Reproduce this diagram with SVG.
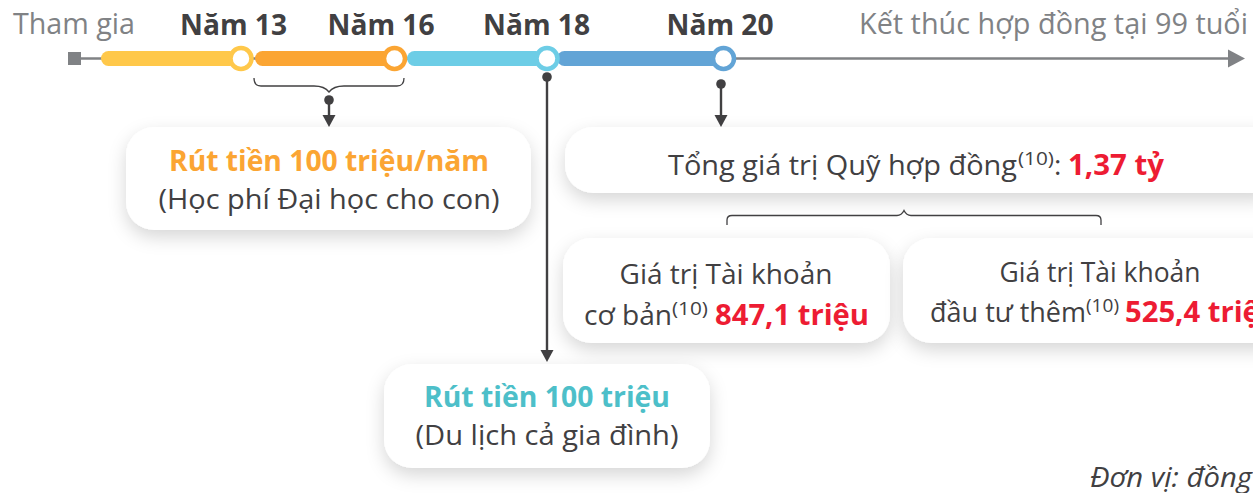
<svg xmlns="http://www.w3.org/2000/svg" width="1253" height="493" viewBox="0 0 1253 493">
<style>
text{font-family:"Open Sans","Noto Sans","Liberation Sans",sans-serif;}
.g{font-size:29px;fill:#808285}
.y{font-size:29px;font-weight:700;fill:#414042;text-anchor:middle}
.b{font-size:28px;fill:#414042;text-anchor:middle}
.l{font-size:28px;fill:#414042}
.h{font-size:28px;font-weight:700;text-anchor:middle}
.r{font-size:28px;font-weight:700;fill:#ED1C33}
.s{font-size:18px;fill:#414042}
.card{fill:#fff;filter:url(#sh)}
.lead{stroke:#414042;stroke-width:2.400;fill:none}
.br{stroke:#414042;stroke-width:1.300;fill:none}
.dot{fill:#414042}
</style>
<defs>
<filter id="sh" x="-20%" y="-30%" width="140%" height="180%"><feDropShadow dx="0" dy="7" stdDeviation="9" flood-color="#000" flood-opacity="0.16"/></filter>
</defs>
<rect width="1253" height="493" fill="#fff"/>
<g id="connectors">
<path d="M74 58.500H1232" stroke="#808285" stroke-width="2.500"/>
<rect x="68" y="52" width="13" height="13" fill="#808285"/>
<path d="M1228 49.500L1245 58.500L1228 67.500Z" fill="#808285"/>
<path class="br" d="M254 78c0 6 3 8 7 8h53c7 0 12 2 15 6c3-4 8-6 15-6h53c4 0 7-2 7-8"/>
<circle class="dot" cx="329" cy="100" r="4.800"/>
<path class="lead" d="M329 100V118"/><path class="dot" d="M322.500 115H335.500L329 127Z"/>
<circle class="dot" cx="547" cy="77" r="4.800"/>
<path class="lead" d="M547 77V352"/><path class="dot" d="M540.500 350H553.500L547 362Z"/>
<circle class="dot" cx="721" cy="84" r="4.800"/>
<path class="lead" d="M721 84V118"/><path class="dot" d="M714.500 115H727.500L721 127Z"/>
<path class="br" d="M727 225V220c0-3 2-4.500 5-4.500H897c3 0 5-1 7-5c2 4 4 5 7 5H1096c3 0 5 1.500 5 4.500V225"/>
</g>
<g id="timeline">
<rect x="101" y="51" width="136" height="15" rx="7.500" fill="#FFC84A"/>
<rect x="255" y="51" width="136" height="15" rx="7.500" fill="#FBA533"/>
<rect x="407" y="51" width="136" height="15" rx="7.500" fill="#6DCDE6"/>
<rect x="557" y="51" width="165" height="15" rx="7.500" fill="#62A4D6"/>
<circle cx="241" cy="58.500" r="10.500" fill="#fff" stroke="#FFC84A" stroke-width="4.500"/>
<circle cx="394.500" cy="58.500" r="10.500" fill="#fff" stroke="#FBA533" stroke-width="4.500"/>
<circle cx="547" cy="58.500" r="10.500" fill="#fff" stroke="#6DCDE6" stroke-width="4.500"/>
<circle cx="723.500" cy="58.500" r="10.500" fill="#fff" stroke="#62A4D6" stroke-width="4.500"/>
</g>
<g id="labels">
<text class="g" x="13" y="34" textLength="122" lengthAdjust="spacingAndGlyphs">Tham gia</text>
<text class="y" x="233.500" y="35" textLength="107" lengthAdjust="spacingAndGlyphs">Năm 13</text>
<text class="y" x="381" y="35" textLength="107" lengthAdjust="spacingAndGlyphs">Năm 16</text>
<text class="y" x="536.500" y="35" textLength="107" lengthAdjust="spacingAndGlyphs">Năm 18</text>
<text class="y" x="720" y="35" textLength="107" lengthAdjust="spacingAndGlyphs">Năm 20</text>
<text class="g" x="859" y="34" textLength="389" lengthAdjust="spacingAndGlyphs">Kết thúc hợp đồng tại 99 tuổi</text>
</g>
<g id="node-rut-nam">
<rect class="card" x="126" y="127" width="405" height="103" rx="28"/>
<text class="h" x="329" y="171" fill="#FBA533" textLength="320" lengthAdjust="spacingAndGlyphs">Rút tiền 100 triệu/năm</text>
<text class="b" x="329" y="209" textLength="341" lengthAdjust="spacingAndGlyphs">(Học phí Đại học cho con)</text>
</g>
<g id="node-tong">
<rect class="card" x="565" y="127" width="720" height="66" rx="28"/>
<text class="l" x="668" y="175" textLength="349" lengthAdjust="spacingAndGlyphs">Tổng giá trị Quỹ hợp đồng</text>
<text class="s" x="1018" y="165" textLength="36" lengthAdjust="spacingAndGlyphs">(10)</text>
<text class="l" x="1054" y="175">:</text>
<text class="r" x="1068" y="175" textLength="96" lengthAdjust="spacingAndGlyphs">1,37 tỷ</text>
</g>
<g id="node-co-ban">
<rect class="card" x="563" y="238" width="327" height="105" rx="28"/>
<text class="b" x="726" y="284" textLength="213" lengthAdjust="spacingAndGlyphs">Giá trị Tài khoản</text>
<text class="l" x="584" y="325" textLength="88" lengthAdjust="spacingAndGlyphs">cơ bản</text>
<text class="s" x="672" y="315" textLength="36" lengthAdjust="spacingAndGlyphs">(10)</text>
<text class="r" x="715" y="325" textLength="154" lengthAdjust="spacingAndGlyphs">847,1 triệu</text>
</g>
<g id="node-dau-tu">
<rect class="card" x="903" y="238" width="420" height="105" rx="28"/>
<text class="b" x="1100" y="282" textLength="201" lengthAdjust="spacingAndGlyphs">Giá trị Tài khoản</text>
<text class="l" x="930" y="322" textLength="156" lengthAdjust="spacingAndGlyphs">đầu tư thêm</text>
<text class="s" x="1086" y="312" textLength="33" lengthAdjust="spacingAndGlyphs">(10)</text>
<text class="r" x="1125" y="322" textLength="154" lengthAdjust="spacingAndGlyphs">525,4 triệu</text>
</g>
<g id="node-du-lich">
<rect class="card" x="384" y="364" width="326" height="104" rx="28"/>
<text class="h" x="547" y="407" fill="#4DBFC9" textLength="246" lengthAdjust="spacingAndGlyphs">Rút tiền 100 triệu</text>
<text class="b" x="547" y="445" textLength="263" lengthAdjust="spacingAndGlyphs">(Du lịch cả gia đình)</text>
</g>
<text x="1252" y="487" text-anchor="end" font-size="27" font-style="italic" fill="#414042" textLength="162" lengthAdjust="spacingAndGlyphs">Đơn vị: đồng</text>
</svg>
